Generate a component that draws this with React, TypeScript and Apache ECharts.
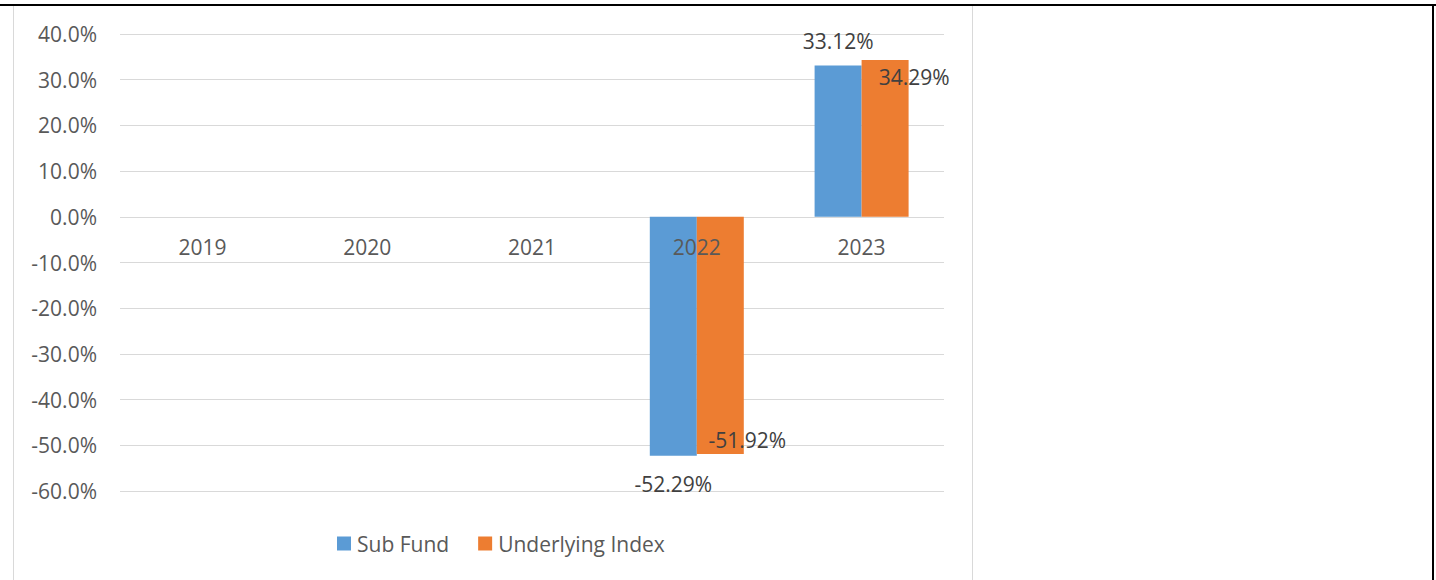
import React, { useEffect, useRef } from "react";
import * as echarts from "echarts";

const years = ["2019", "2020", "2021", "2022", "2023"];
const subFund: (number | null)[] = [null, null, null, -52.29, 33.12];
const underlyingIndex: (number | null)[] = [null, null, null, -51.92, 34.29];
const seriesNames = ["Sub Fund", "Underlying Index"];

const FONT = "'Open Sans', 'Noto Sans', sans-serif";

export default function App() {
  const ref = useRef<HTMLDivElement>(null);
  useEffect(() => {
    if (!ref.current) return;
    const chart = echarts.init(ref.current, null, { renderer: "svg" });

    const subData = subFund.map((v) => {
      if (v == null) return null;
      return {
        value: v,
        label: v >= 0
          ? { position: "top", distance: 14 }
          : { position: "bottom", distance: 18 },
      };
    });
    const idxData = underlyingIndex.map((v) => {
      if (v == null) return null;
      return {
        value: v,
        label: v >= 0
          ? { position: "insideTop", offset: [29, 1] }
          : { position: "insideBottom", offset: [27, 1] },
      };
    });

    chart.setOption({
      animation: false,
      backgroundColor: "#ffffff",
      textStyle: { fontFamily: FONT },
      graphic: [
        {
          type: "rect",
          shape: { x: 13.5, y: 5.5, width: 959, height: 600 },
          style: { fill: "none", stroke: "#d9d9d9", lineWidth: 1 },
          silent: true,
        },
        {
          type: "rect",
          shape: { x: 0, y: 4, width: 1436, height: 2 },
          style: { fill: "#000000" },
          silent: true,
        },
        {
          type: "rect",
          shape: { x: 1432, y: 4, width: 2, height: 580 },
          style: { fill: "#000000" },
          silent: true,
        },
      ],
      grid: { left: 120, right: 492, top: 34, bottom: 89, containLabel: false },
      legend: {
        data: seriesNames,
        left: 332,
        top: 528,
        itemWidth: 14,
        itemHeight: 14,
        itemGap: 29,
        icon: "rect",
        textStyle: { fontFamily: FONT, fontSize: 21, color: "#595959", padding: [0, 0, 0, 1] },
      },
      xAxis: {
        type: "category",
        data: years,
        position: "bottom",
        offset: -274.2,
        z: 10,
        axisLine: { show: false, onZero: false },
        axisTick: { show: false },
        axisLabel: { fontFamily: FONT, fontSize: 21, color: "#595959", margin: 20 },
      },
      yAxis: {
        type: "value",
        min: -60,
        max: 40,
        interval: 10,
        axisLine: { show: false },
        axisTick: { show: false },
        splitLine: { lineStyle: { color: "#d9d9d9", width: 1 } },
        axisLabel: {
          fontFamily: FONT,
          fontSize: 21,
          color: "#595959",
          margin: 23,
          formatter: (v: number) => v.toFixed(1) + "%",
        },
      },
      series: [
        {
          name: seriesNames[0],
          type: "bar",
          data: subData,
          barWidth: 47,
          barGap: "0%",
          itemStyle: { color: "#5B9BD5" },
          label: {
            show: true,
            fontFamily: FONT,
            fontSize: 21,
            color: "#404040",
            formatter: (p: any) => Number(p.value).toFixed(2) + "%",
          },
        },
        {
          name: seriesNames[1],
          type: "bar",
          data: idxData,
          barWidth: 47,
          barGap: "0%",
          itemStyle: { color: "#ED7D31" },
          label: {
            show: true,
            fontFamily: FONT,
            fontSize: 21,
            color: "#404040",
            formatter: (p: any) => Number(p.value).toFixed(2) + "%",
          },
        },
      ],
    });
    return () => chart.dispose();
  }, []);

  return (
    <div
      ref={ref}
      style={{ position: "fixed", left: 0, top: 0, width: 1436, height: 580 }}
    />
  );
}
